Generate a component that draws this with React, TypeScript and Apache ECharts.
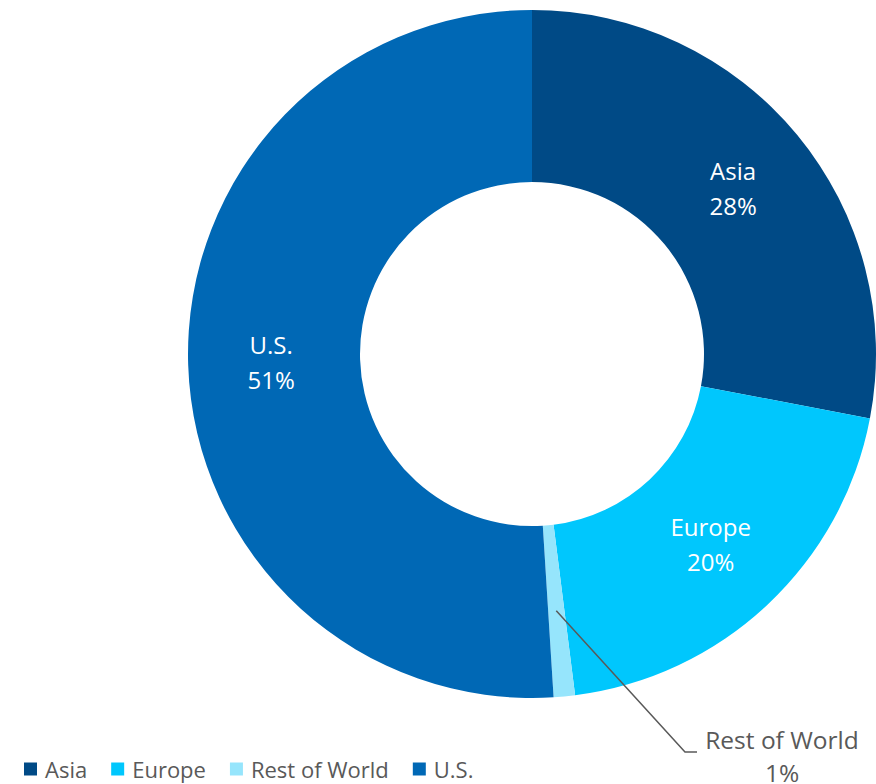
import React, { useEffect, useRef } from "react";
import * as echarts from "echarts";

const categories = ["Asia", "Europe", "Rest of World", "U.S."];
const shares = [28, 20, 1, 51];
const colors = ["#004A86", "#00C7FD", "#96E5FC", "#0068B5"];

export default function App() {
  const ref = useRef<HTMLDivElement>(null);
  useEffect(() => {
    document.body.style.margin = "0";
    const chart = echarts.init(ref.current!, null, { renderer: "svg" });
    const cx = 532;
    const cy = 354;
    const rIn = 172;
    const rOut = 344;
    const total = shares.reduce((a, b) => a + b, 0);
    const before = shares.slice(0, 2).reduce((a, b) => a + b, 0);
    const midFrac = (before + shares[2] / 2) / total;
    const th = midFrac * Math.PI * 2;
    const rMid = (rIn + rOut) / 2;
    const sx = cx + rMid * Math.sin(th);
    const sy = cy - rMid * Math.cos(th);

    chart.setOption({
      animation: false,
      color: colors,
      legend: {
        left: 19,
        top: 751,
        icon: "rect",
        itemWidth: 13,
        itemHeight: 13,
        itemGap: 24,
        selectedMode: false,
        textStyle: {
          fontFamily: "Open Sans",
          fontSize: 22,
          lineHeight: 26,
          color: "#595959",
          padding: [0, 0, 0, 3],
        },
        data: categories,
      },
      graphic: [
        {
          type: "polyline",
          z: 100,
          silent: true,
          shape: {
            points: [
              [sx, sy],
              [685, 752],
              [697, 752],
            ],
          },
          style: { stroke: "#595959", lineWidth: 1.5, fill: "none" },
        },
      ],
      series: [
        {
          type: "pie",
          center: [cx, cy],
          radius: [rIn, rOut],
          startAngle: 90,
          clockwise: true,
          avoidLabelOverlap: false,
          itemStyle: { borderWidth: 0 },
          label: {
            show: true,
            position: "inside",
            color: "#ffffff",
            fontFamily: "Open Sans",
            fontSize: 24,
            lineHeight: 35,
            formatter: (p: any) => `${p.name}\n${p.value}%`,
          },
          labelLine: { show: false },
          labelLayout: (params: any) => {
            if (params.dataIndex !== 2) return {};
            return {
              x: 782,
              y: 756,
              align: "center",
              verticalAlign: "middle",
            };
          },
          data: categories.map((name, i) =>
            i === 2
              ? {
                  name,
                  value: shares[i],
                  label: {
                    position: "outside",
                    color: "#595959",
                    fontSize: 24.5,
                    lineHeight: 33,
                  },
                  labelLine: { show: false },
                }
              : { name, value: shares[i] }
          ),
        },
      ],
    });
    return () => chart.dispose();
  }, []);
  return <div ref={ref} style={{ width: 876, height: 784 }} />;
}
